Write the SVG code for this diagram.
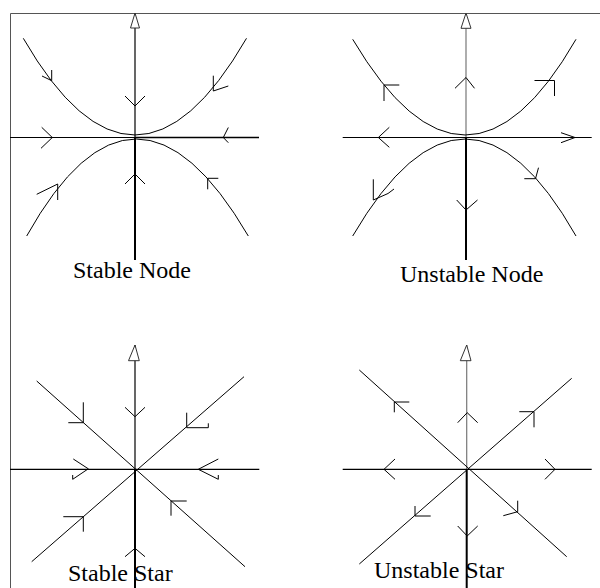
<svg xmlns="http://www.w3.org/2000/svg" width="600" height="588" viewBox="0 0 600 588">
<style>
.bg{fill:#fff}
.frame{stroke:#555;stroke-width:1;fill:none}
.ax{stroke:#000;stroke-width:1.2;fill:none}
.axg{stroke:#777;stroke-width:1.2;fill:none}
.axb{stroke:#000;stroke-width:2;fill:none}
.tr{stroke:#000;stroke-width:1;fill:none}
.ar{stroke:#000;stroke-width:1;fill:none}
.head{stroke:#333;stroke-width:1;fill:#fff}
.lbl{font-family:"Liberation Serif","Times New Roman",serif;font-size:24px;fill:#000}
</style>
<rect class="bg" x="0" y="0" width="600" height="588"/>
<g id="frame">
<path class="frame" d="M10.5,588 V13.5 H600"/>
</g>

<g id="stable-node">
<path class="ax" d="M135,13 V137"/>
<path class="axb" d="M135,137 V260"/>
<path class="ax" d="M10,137.5 H135"/>
<path class="axb" d="M135,137.5 H259" style="stroke-width:1.5"/>
<polygon class="head" points="135,13 130.5,28 139.5,28"/>
<path class="tr" d="M23.3,38.3 Q135,231.7 246.5,38.3"/>
<path class="tr" d="M26.7,236 Q135,42 248.3,236"/>
<polyline class="ar" points="42,76 51.7,80.7 51.7,70"/>
<polyline class="ar" points="125,96 135,106 145,96"/>
<polyline class="ar" points="213.3,75.7 213.3,91 228.3,86"/>
<polyline class="ar" points="41.7,127.3 52.3,137.5 41,148.3"/>
<polyline class="ar" points="228.3,127.5 223.3,137.5 228.3,142.7"/>
<polyline class="ar" points="36.7,194.3 57.7,184 57.7,200"/>
<polyline class="ar" points="125,184 135,174 145,184"/>
<polyline class="ar" points="218.3,178.3 207.7,178.3 207.7,189.3"/>
<text class="lbl" x="73" y="278">Stable Node</text>
</g>

<g id="unstable-node">
<path class="axg" d="M466,13 V137"/>
<path class="axb" d="M466,137 V260"/>
<path class="ax" d="M342.7,137.5 H591.7"/>
<polygon class="head" points="466,13 461,28.3 471,28.3"/>
<path class="tr" d="M352.7,39.3 Q466,230.7 576,39.3"/>
<path class="tr" d="M352.7,236 Q466,42 576,236"/>
<polyline class="ar" points="399.3,85 384,85 384,101"/>
<polyline class="ar" points="389.3,127.3 378.3,137.5 389.3,147.3"/>
<polyline class="ar" points="373.3,179.3 373.3,200 388,193.5 394,189"/>
<polyline class="ar" points="455,88.3 466,77.5 474.5,88.3"/>
<polyline class="ar" points="534.5,80.5 554.5,80.5 554.5,96"/>
<polyline class="ar" points="561,132.7 575,137.5 561,142.7"/>
<polyline class="ar" points="524.3,178.7 535.5,178.7 538.5,167.7"/>
<polyline class="ar" points="456.7,200 466,210 477.5,200"/>
<text class="lbl" x="400" y="282">Unstable Node</text>
</g>

<g id="stable-star">
<path class="ax" d="M135,345 V469"/>
<path class="axb" d="M135,469 V588"/>
<path class="ax" d="M10,469.3 H259.3"/>
<polygon class="head" points="135,345 128.5,360.7 139.3,360.7"/>
<path class="tr" d="M36.7,381 L245,566.7"/>
<path class="tr" d="M31.7,561.7 L244,376.7"/>
<polyline class="ar" points="68.3,422.7 83.3,422.7 83.3,402.3"/>
<polyline class="ar" points="125,407.3 135,416.7 145,407.3"/>
<polyline class="ar" points="186.7,412.7 186.7,427.7 208.3,427.7 208.3,423.3"/>
<polyline class="ar" points="73.3,459 88.3,468.8 72.7,479.3 72.7,475"/>
<polyline class="ar" points="218.3,459 198.3,469.3 218.3,479.3 218.3,475"/>
<polyline class="ar" points="63.3,516.7 83.3,516.7 83.3,531.7"/>
<polyline class="ar" points="186.7,501 171,501 171,515.7"/>
<polyline class="ar" points="125,556.7 135,548.3 145,556.7"/>
<text class="lbl" x="68" y="581">Stable Star</text>
</g>

<g id="unstable-star">
<path class="axg" d="M466.7,345 V469"/>
<path class="axb" d="M466.7,469 V588"/>
<path class="ax" d="M342.7,469.3 H591.7"/>
<polygon class="head" points="466.7,345 460.3,360.7 471,360.7"/>
<path class="tr" d="M359.3,370 L566.7,556.7"/>
<path class="tr" d="M359.3,564 L571.7,378.3"/>
<polyline class="ar" points="409.3,402 394.3,402 394.3,412.3"/>
<polyline class="ar" points="457.7,422.7 467.2,412.7 477.7,422.7"/>
<polyline class="ar" points="519.3,411.7 534,411.7 534,427.3"/>
<polyline class="ar" points="395,459 384,469.3 395,479.3"/>
<polyline class="ar" points="545,459 555,469.3 545,479.3"/>
<polyline class="ar" points="415,506 415,516 430.7,516"/>
<polyline class="ar" points="517.7,500.7 517.7,511.7 503.3,515.7"/>
<polyline class="ar" points="457.7,526 467.2,536 477.7,526"/>
<text class="lbl" x="374" y="578">Unstable Star</text>
</g>
</svg>
